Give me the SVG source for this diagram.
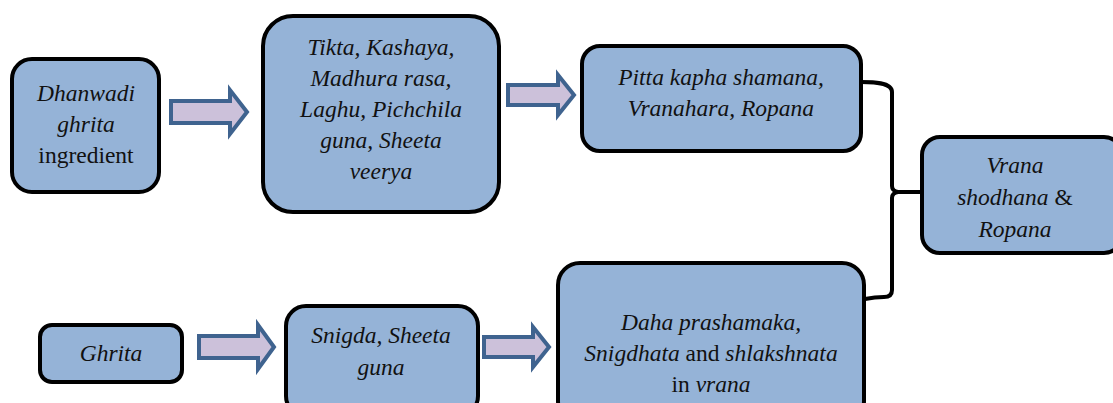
<svg xmlns="http://www.w3.org/2000/svg" width="1113" height="403" viewBox="0 0 1113 403">
<defs>
<style>
.box{fill:#95b3d7;stroke:#000;stroke-width:4}
.arr{fill:#ccc1da;stroke:#3f638f;stroke-width:4;stroke-linejoin:miter}
.t{font-family:'Liberation Serif','Times New Roman',serif;font-size:23.5px;fill:#111;text-anchor:middle;font-style:italic}
.n{font-style:normal}
.con{fill:none;stroke:#000;stroke-width:4}
</style>
</defs>
<rect width="1113" height="403" fill="#fff"/>
<g id="n1">
<rect class="box" x="12" y="59" width="147" height="133" rx="20"/>
<text class="t" x="86" y="101">Dhanwadi</text>
<text class="t" x="86" y="132">ghrita</text>
<text class="t n" x="86" y="163">ingredient</text>
</g>
<g id="n2">
<rect class="box" x="263" y="16" width="236" height="196" rx="30"/>
<text class="t" x="381" y="55">Tikta, Kashaya,</text>
<text class="t" x="381" y="86">Madhura rasa,</text>
<text class="t" x="381" y="117">Laghu, Pichchila</text>
<text class="t" x="381" y="148">guna, Sheeta</text>
<text class="t" x="381" y="179">veerya</text>
</g>
<g id="n3">
<rect class="box" x="582" y="46" width="279" height="105" rx="18"/>
<text class="t" x="721" y="85">Pitta kapha shamana,</text>
<text class="t" x="721" y="116">Vranahara, Ropana</text>
</g>
<g id="n4">
<rect class="box" x="922" y="137" width="200" height="116" rx="18"/>
<text class="t" x="1015" y="173">Vrana</text>
<text class="t" x="1015" y="205"><tspan>shodhana </tspan><tspan class="n">&amp;</tspan></text>
<text class="t" x="1015" y="237">Ropana</text>
</g>
<g id="n5">
<rect class="box" x="40" y="325" width="142" height="57" rx="12"/>
<text class="t" x="111" y="361">Ghrita</text>
</g>
<g id="n6">
<rect class="box" x="286" y="306" width="192" height="110" rx="20"/>
<text class="t" x="381" y="343">Snigda, Sheeta</text>
<text class="t" x="381" y="375">guna</text>
</g>
<g id="n7">
<rect class="box" x="558" y="263" width="306" height="160" rx="22"/>
<text class="t" x="711" y="330">Daha prashamaka,</text>
<text class="t" x="711" y="361">Snigdhata <tspan class="n">and</tspan> shlakshnata</text>
<text class="t" x="711" y="392"><tspan class="n">in</tspan> vrana</text>
</g>
<g id="connectors">
<path class="arr" d="M171,101 H230 V90 L247,112 L230,134 V123 H171 Z"/>
<path class="arr" d="M508,85 H558 V75 L574,95 L558,115 V105 H508 Z"/>
<path class="arr" d="M199,336 H258 V325 L274,347 L258,369 V358 H199 Z"/>
<path class="arr" d="M484,337 H533 V327 L549,347 L533,367 V357 H484 Z"/>
<path class="con" d="M861,82 C872,82 892,82 892,92 V186 Q892,191 898,192 H922 M898,192 Q892,193 892,198 V290 Q892,297 884,297 C876,297 870,298 865,299"/>
</g>
</svg>
